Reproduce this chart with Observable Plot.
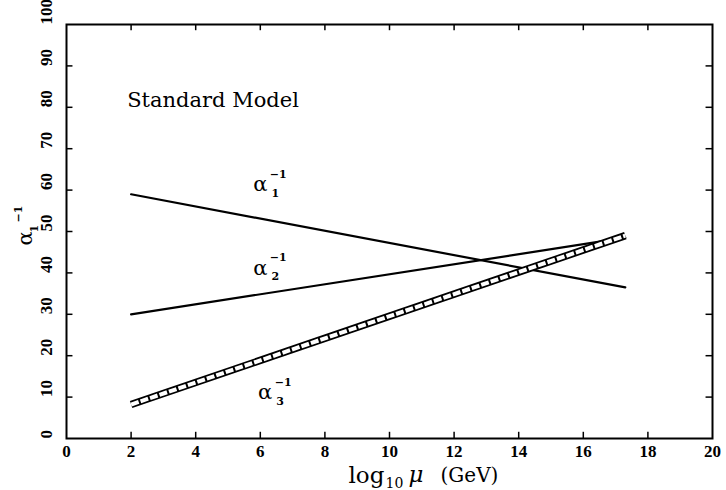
<!DOCTYPE html>
<html>
<head>
<meta charset="utf-8">
<script src="https://cdn.jsdelivr.net/npm/d3@7"></script>
<script src="https://cdn.jsdelivr.net/npm/@observablehq/plot@0.6"></script>
<style>
  html, body { margin: 0; padding: 0; background: white; }
  #chart svg { display: block; }
</style>
</head>
<body>
<div id="chart"></div>
<script>
// ---- data ----
const xTicks = [0, 2, 4, 6, 8, 10, 12, 14, 16, 18, 20];
const yTicks = [0, 10, 20, 30, 40, 50, 60, 70, 80, 90, 100];

const logMu = [2, 17.3];
const alpha1Inv = [59, 36.5];
const alpha2Inv = [30, 48.5];
const alpha3Inv = [8.2, 49.0];

const lineLabels = ["1", "2", "3"];
const lineLabelX = [6.0, 6.0, 6.15];
const lineLabelY = [61.3, 41.2, 11.1];

const title = "Standard Model";

// ---- build tables ----
const s1 = logMu.map((x, i) => ({x, y: alpha1Inv[i]}));
const s2 = logMu.map((x, i) => ({x, y: alpha2Inv[i]}));
const s3 = logMu.map((x, i) => ({x, y: alpha3Inv[i]}));
const labs = lineLabels.map((s, i) => ({s, x: lineLabelX[i], y: lineLabelY[i]}));
const inner = xTicks.slice(1, -1);
const innerY = yTicks.slice(1, -1);

const serif = "DejaVu Serif";
const numFont = "Liberation Serif";

const chart = Plot.plot({
  width: 726,
  height: 490,
  marginLeft: 66,
  marginRight: 14,
  marginTop: 24,
  marginBottom: 52,
  x: {domain: [0, 20], axis: null},
  y: {domain: [0, 100], axis: null},
  style: {background: "white", color: "black"},
  marks: [
    // inward ticks
    Plot.ruleX(inner, {x: d => d, y1: 0, y2: 1.5, stroke: "black", strokeWidth: 1.5}),
    Plot.ruleX(inner, {x: d => d, y1: 100, y2: 98.5, stroke: "black", strokeWidth: 1.5}),
    Plot.ruleY(innerY, {y: d => d, x1: 0, x2: 0.2, stroke: "black", strokeWidth: 1.5}),
    Plot.ruleY(innerY, {y: d => d, x1: 20, x2: 19.8, stroke: "black", strokeWidth: 1.5}),
    Plot.frame({stroke: "black", strokeWidth: 2}),
    // tick labels
    Plot.text(xTicks, {x: d => d, frameAnchor: "bottom", dy: 18, text: d => String(d),
      fontSize: 17, fontWeight: "bold", fontFamily: numFont}),
    Plot.text(yTicks, {y: d => d, frameAnchor: "left", dx: -20, rotate: -90, text: d => String(d),
      fontSize: 17, fontWeight: "bold", fontFamily: numFont}),
    // curves
    Plot.line(s1, {x: "x", y: "y", stroke: "black", strokeWidth: 2.2}),
    Plot.line(s2, {x: "x", y: "y", stroke: "black", strokeWidth: 2.2}),
    Plot.line(s3, {x: "x", y: "y", stroke: "black", strokeWidth: 7.5, strokeLinecap: "butt"}),
    Plot.line(s3, {x: "x", y: "y", stroke: "white", strokeWidth: 4, strokeDasharray: "8,2", strokeLinecap: "butt"}),
    // title
    Plot.text([title], {x: 1.88, y: 81.8, text: d => d, textAnchor: "start",
      fontSize: 21, fontFamily: serif}),
    // line labels alpha_i^{-1}
    Plot.text(labs, {x: "x", y: "y", text: () => "α", fontSize: 21, fontFamily: serif}),
    Plot.text(labs, {x: "x", y: "y", text: "s", dx: 15, dy: 9, fontSize: 11, fontWeight: "bold", fontFamily: serif}),
    Plot.text(labs, {x: "x", y: "y", text: () => "−1", dx: 18, dy: -10, fontSize: 11, fontWeight: "bold", fontFamily: serif}),
    // y axis label
    Plot.text(["α"], {frameAnchor: "left", dx: -41, dy: 14, rotate: -90, text: d => d, fontSize: 21, fontFamily: serif}),
    Plot.text(["1"], {frameAnchor: "left", dx: -32, dy: 1, rotate: -90, text: d => d, fontSize: 11, fontWeight: "bold", fontFamily: serif}),
    Plot.text(["−1"], {frameAnchor: "left", dx: -48, dy: -9, rotate: -90, text: d => d, fontSize: 11, fontWeight: "bold", fontFamily: serif}),
    // x axis label
    Plot.text(["log"], {x: 8.73, frameAnchor: "bottom", dy: 44, textAnchor: "start", text: d => d, fontSize: 23, fontFamily: serif}),
    Plot.text(["10"], {x: 9.88, frameAnchor: "bottom", dy: 49, textAnchor: "start", text: d => d, fontSize: 14, fontFamily: serif}),
    Plot.text(["μ"], {x: 10.59, frameAnchor: "bottom", dy: 43, textAnchor: "start", text: d => d, fontSize: 23, fontStyle: "italic", fontFamily: serif}),
    Plot.text(["(GeV)"], {x: 11.58, frameAnchor: "bottom", dy: 43, textAnchor: "start", text: d => d, fontSize: 20, fontFamily: serif})
  ]
});
// make sure the hatched band shows its dash pattern and square ends
const lineGroups = chart.querySelectorAll('g[aria-label="line"]');
const bandEdge = lineGroups[lineGroups.length - 2];
const band = lineGroups[lineGroups.length - 1];
[bandEdge, band].forEach(g => {
  g.setAttribute("stroke-linecap", "butt");
  g.querySelectorAll("path").forEach(p => p.setAttribute("stroke-linecap", "butt"));
});
band.setAttribute("stroke-dasharray", "8,2");
band.querySelectorAll("path").forEach(p => p.setAttribute("stroke-dasharray", "8,2"));
document.getElementById("chart").appendChild(chart);
</script>
</body>
</html>
